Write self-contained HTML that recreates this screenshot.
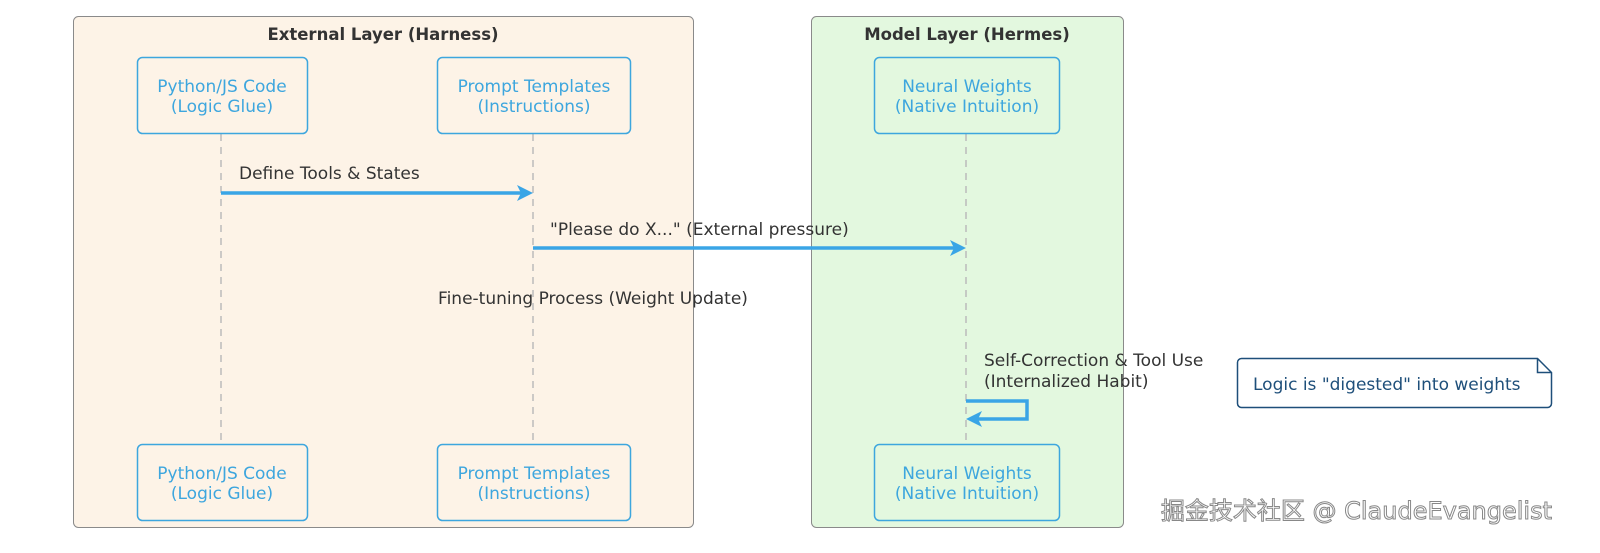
<!DOCTYPE html>
<html><head><style>html,body{margin:0;background:#fff;overflow:hidden}svg{display:block}text{font-family:"DejaVu Sans",sans-serif}</style></head><body>
<svg width="1600" height="553" viewBox="0 0 1600 553">
<rect x="73.5" y="16.5" width="620" height="511" rx="5" fill="#fdf3e7" stroke="#8a8a8a"/>
<rect x="811.5" y="16.5" width="312" height="511" rx="5" fill="#e3f8df" stroke="#8a8a8a"/>
<text x="383" y="40" text-anchor="middle" font-size="16.5" font-weight="bold" fill="#333">External Layer (Harness)</text>
<text x="967" y="40" text-anchor="middle" font-size="16.5" font-weight="bold" fill="#333">Model Layer (Hermes)</text>
<g stroke="#bbb" stroke-dasharray="7,6" stroke-width="1.5">
<line x1="221" y1="134" x2="221" y2="444"/><line x1="533" y1="134" x2="533" y2="444"/><line x1="966" y1="134" x2="966" y2="444"/></g>
<g fill="none" stroke="#3da6de" stroke-width="1.5">
<rect x="137.5" y="57.5" width="170" height="76" rx="5"/><rect x="437.5" y="57.5" width="193" height="76" rx="5"/><rect x="874.5" y="57.5" width="185" height="76" rx="5"/>
<rect x="137.5" y="444.5" width="170" height="76" rx="5"/><rect x="437.5" y="444.5" width="193" height="76" rx="5"/><rect x="874.5" y="444.5" width="185" height="76" rx="5"/></g>
<g font-size="17" fill="#3da6de" text-anchor="middle">
<text x="222" y="92">Python/JS Code</text><text x="222" y="112">(Logic Glue)</text>
<text x="534" y="92">Prompt Templates</text><text x="534" y="112">(Instructions)</text>
<text x="967" y="92">Neural Weights</text><text x="967" y="112">(Native Intuition)</text>
<text x="222" y="479">Python/JS Code</text><text x="222" y="499">(Logic Glue)</text>
<text x="534" y="479">Prompt Templates</text><text x="534" y="499">(Instructions)</text>
<text x="967" y="479">Neural Weights</text><text x="967" y="499">(Native Intuition)</text></g>
<g stroke="#3aa5e6" stroke-width="3.5" fill="none">
<line x1="221" y1="193" x2="525" y2="193"/><line x1="533" y1="248" x2="958" y2="248"/>
<polyline points="966,401 1027,401 1027,419 975,419"/></g>
<g fill="#3aa5e6"><polygon points="533,193 517,185 521,193 517,201"/><polygon points="966,248 950,240 954,248 950,256"/><polygon points="966,419 982,411 978,419 982,427"/></g>
<g font-size="17" fill="#333">
<text x="239" y="179">Define Tools &amp; States</text>
<text x="550" y="235">"Please do X..." (External pressure)</text>
<text x="593" y="304" text-anchor="middle">Fine-tuning Process (Weight Update)</text>
<text x="984" y="366">Self-Correction &amp; Tool Use</text>
<text x="984" y="387">(Internalized Habit)</text></g>
<path d="M1241.5,358.5 H1537.5 L1551.5,372.5 V403.5 a4,4 0 0 1 -4,4 H1241.5 a4,4 0 0 1 -4,-4 V362.5 a4,4 0 0 1 4,-4 Z M1537.5,358.5 V372.5 H1551.5" fill="#fff" stroke="#1e4f7a" stroke-width="1.5"/>
<text x="1253" y="390" font-size="17" fill="#1e4f7a">Logic is "digested" into weights</text>
<text x="1552" y="519" text-anchor="end" font-size="24" fill="#fff" stroke="#888" stroke-width="1" style='font-family:"DejaVu Sans","Noto Sans CJK SC",sans-serif'>掘金技术社区 @ ClaudeEvangelist</text>
</svg></body></html>
